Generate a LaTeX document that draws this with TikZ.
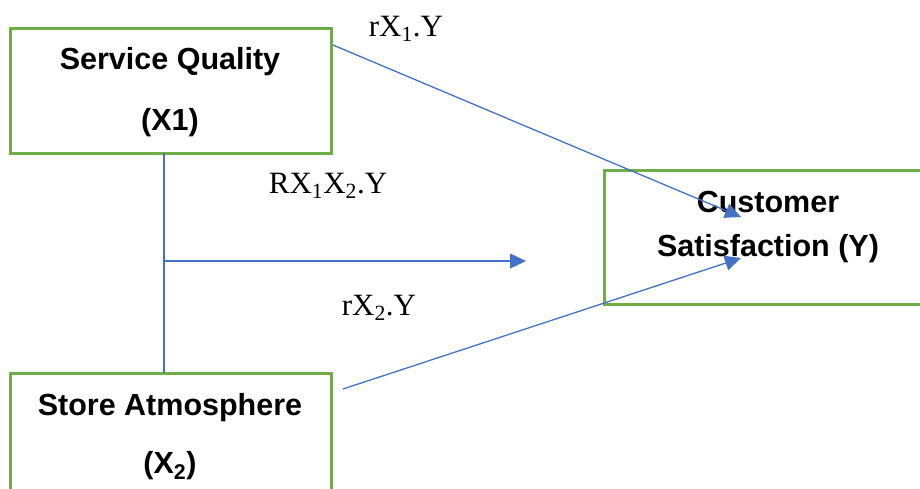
\documentclass[tikz,border=0pt]{standalone}
\usepackage{fontspec}
\setmainfont{Liberation Serif}
\setsansfont{Liberation Sans}
\usetikzlibrary{arrows.meta}
\definecolor{boxgreen}{HTML}{70AD47}
\definecolor{lineblue}{HTML}{4472C4}
\tikzset{
  vbox/.style={draw=boxgreen, line width=3pt, inner sep=0pt, fill=none},
  vtext/.style={font=\sffamily\bfseries\fontsize{30.5}{34}\selectfont, anchor=base, inner sep=0pt},
  lbl/.style={font=\rmfamily\fontsize{31}{36}\selectfont, anchor=base, inner sep=0pt},
  conn/.style={draw=lineblue, line width=1.3pt},
  arr/.style={conn, -{Triangle[length=16pt, width=15pt]}},
}
\begin{document}
\begin{tikzpicture}[x=1pt, y=-1pt]
\useasboundingbox (0,0) rectangle (920,488);
\clip (0,0) rectangle (920,488);
\fill[white] (0,0) rectangle (920,488);
% boxes
\node[vbox, minimum width=321pt, minimum height=125pt] (x1) at (170.5,90.5) {};
\node[vbox, minimum width=328pt, minimum height=134pt] (y) at (768,237) {};
\node[vbox, minimum width=321pt, minimum height=130pt] (x2) at (170.5,438) {};
% box texts
\node[vtext] (t1a) at (170,69) {Service Quality};
\node[vtext] (t1b) at (170,130) {(X1)};
\node[vtext] (tya) at (768,212) {Customer};
\node[vtext] (tyb) at (768,256) {Satisfaction (Y)};
\node[vtext] (t2a) at (170,415) {Store Atmosphere};
\node[vtext] (t2b) at (170,473) {(X\textsubscript{2})};
% labels
\node[lbl] (l1) at (406,36) {rX\textsubscript{1}.Y};
\node[lbl] (l12) at (328,193) {RX\textsubscript{1}X\textsubscript{2}.Y};
\node[lbl] (l2) at (379,315) {rX\textsubscript{2}.Y};
% connector coordinates
\coordinate (a1s) at (333,45);
\coordinate (a1e) at (741,217);
\coordinate (a2s) at (343,389);
\coordinate (a2e) at (741,258);
\coordinate (v1) at (164,153);
\coordinate (v2) at (164,373);
\coordinate (j) at (164,261);
\coordinate (je) at (526,261);
% connectors
\draw[conn] (v1) -- (v2);
\draw[arr] (j) -- (je);
\draw[arr] (a1s) -- (a1e);
\draw[arr] (a2s) -- (a2e);
\end{tikzpicture}
\end{document}
